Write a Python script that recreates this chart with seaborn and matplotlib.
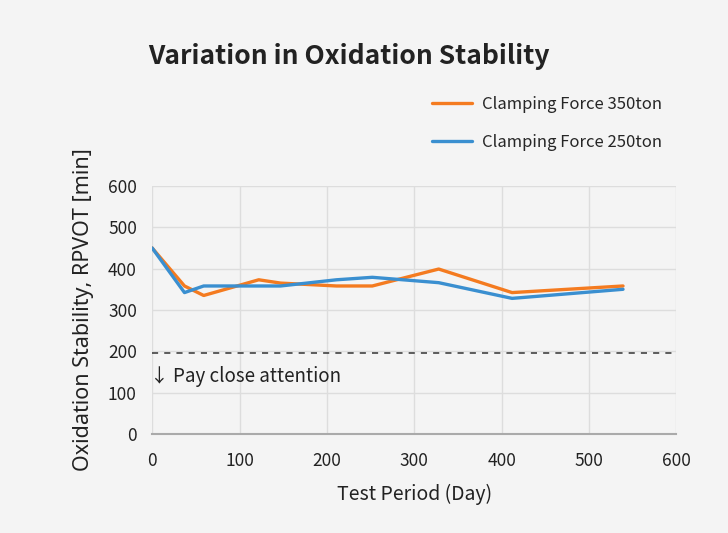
import matplotlib
matplotlib.use("Agg")
import matplotlib.pyplot as plt
import numpy as np
import pandas as pd
import seaborn as sns

# test period (days) and RPVOT readings
days = [0, 37, 59, 122, 147, 211, 252, 328, 412, 539]
force_350 = [450, 358, 335, 373, 365, 358, 358, 399, 342, 358]
force_250 = [450, 342, 358, 358, 358, 373, 379, 366, 328, 350]
series_names = ["Clamping Force 350ton", "Clamping Force 250ton"]
threshold = 195

df = pd.DataFrame({
    "day": days * 2,
    "rpvot": force_350 + force_250,
    "series": [series_names[0]] * len(days) + [series_names[1]] * len(days),
})

sns.set_theme(style="white")
plt.rcParams["font.family"] = ["Noto Sans CJK KR", "DejaVu Sans"]

bg = "#f4f4f4"
fig = plt.figure(figsize=(7.28, 5.33), dpi=100, facecolor=bg)
ax = fig.add_axes([0.209, 0.186, 0.720, 0.465], facecolor=bg)

palette = {series_names[0]: "#f47b20", series_names[1]: "#3a8fd0"}
sns.lineplot(data=df, x="day", y="rpvot", hue="series", hue_order=series_names,
             palette=palette, linewidth=2.4, ax=ax, zorder=3)

ax.axhline(threshold, color="#333333", linestyle=(0, (4, 4)), linewidth=1.1, zorder=2)
ax.text(-2, threshold - 57, "↓ Pay close attention", fontsize=13.5, color="#222222",
        ha="left", va="center", family=["Noto Sans CJK KR", "DejaVu Sans"])

ax.set_xlim(0, 600)
ax.set_ylim(0, 600)
ax.set_xticks(np.arange(0, 601, 100))
ax.set_yticks(np.arange(0, 601, 100))
ax.grid(True, color="#dddddd", linewidth=1.0, zorder=0)
ax.tick_params(axis="both", length=0, labelsize=12.5, colors="#222222")
ax.tick_params(axis="x", pad=13)
ax.tick_params(axis="y", pad=11)
for side in ["top", "right", "left"]:
    ax.spines[side].set_visible(False)
ax.spines["bottom"].set_color("#aaaaaa")
ax.spines["bottom"].set_linewidth(1.5)

ax.set_xlabel("Test Period (Day)", fontsize=14, color="#222222", labelpad=10)
ax.set_ylabel("Oxidation Stability, RPVOT [min]", fontsize=15.5, color="#222222",
              labelpad=10, family=["Noto Sans", "DejaVu Sans"])

leg = ax.legend(loc="upper left", bbox_to_anchor=(0.505, 1.425), frameon=False,
                fontsize=12, handlelength=2.4, handletextpad=0.6, labelspacing=1.25)
for line in leg.get_lines():
    line.set_linewidth(2.4)

fig.text(148 / 728, 1 - 57 / 533, "Variation in Oxidation Stability", fontsize=19,
         fontweight="bold", color="#222222", ha="left", va="center")

fig.savefig("out.png", dpi=100, facecolor=bg)
